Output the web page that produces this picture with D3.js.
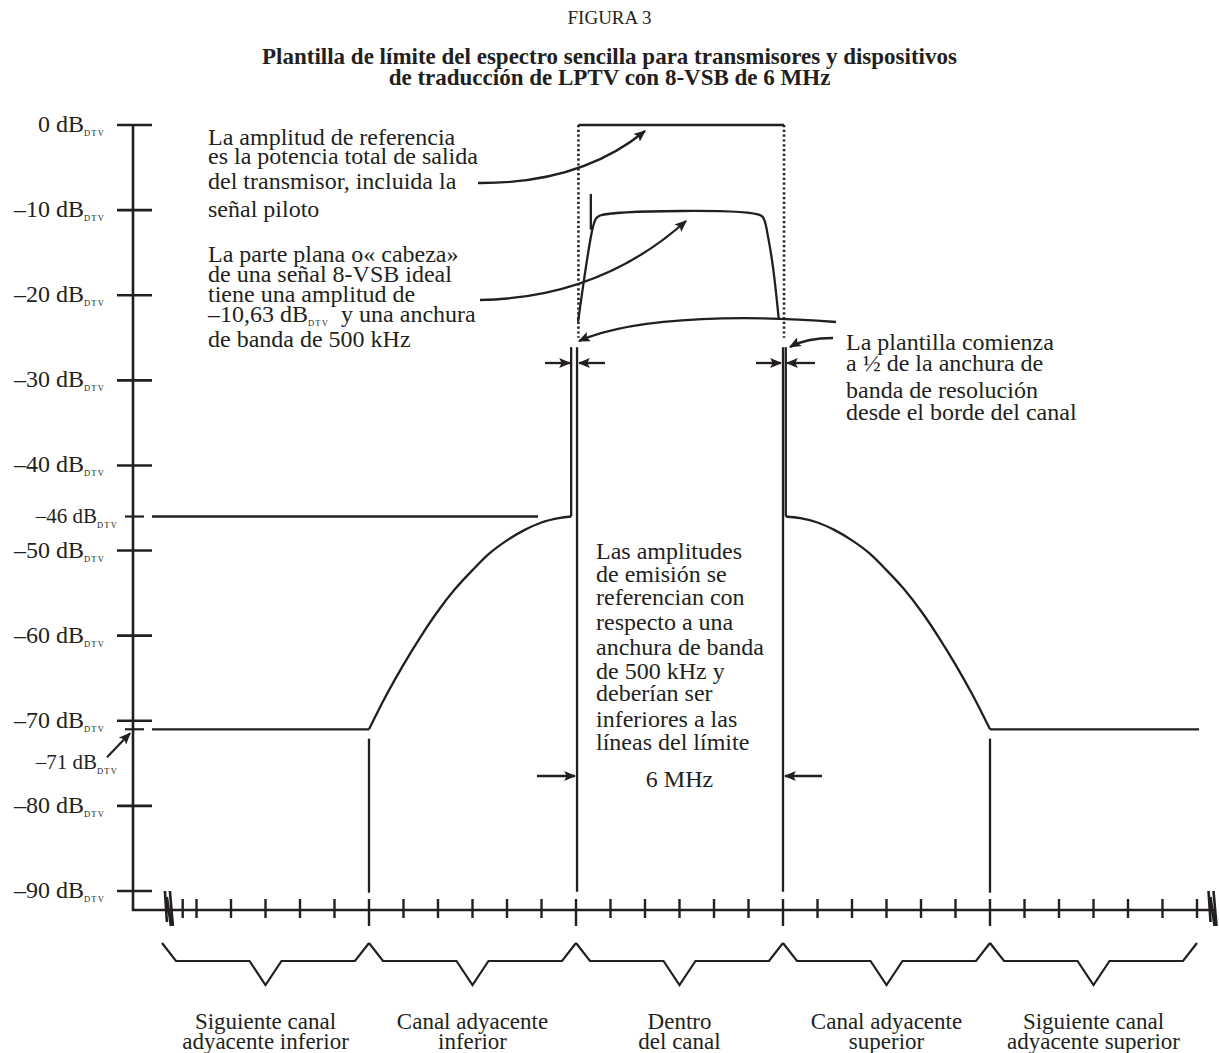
<!DOCTYPE html>
<html><head><meta charset="utf-8">
<script src="https://cdn.jsdelivr.net/npm/d3@7"></script>
<style>body{margin:0;background:#fff} svg{display:block} text{font-family:"Liberation Serif","Times New Roman",serif;fill:#231f20}</style>
</head><body>
<svg id="c" width="1219" height="1053"></svg>
<script>
// ---------- data ----------
const titleTop = "FIGURA 3";
const titleLines = ["Plantilla de límite del espectro sencilla para transmisores y dispositivos",
                    "de traducción de LPTV con 8-VSB de 6 MHz"];
const yTickValues = [0, -10, -20, -30, -40, -50, -60, -70, -80, -90];
const yTickLabels = ["0 dB", "–10 dB", "–20 dB", "–30 dB", "–40 dB", "–50 dB", "–60 dB", "–70 dB", "–80 dB", "–90 dB"];
const ySpecialValues = [-46, -71];
const ySpecialLabels = ["–46 dB", "–71 dB"];
const ySub = "DTV";
const xTickValues = [-11.4, -11, -10, -9, -8, -7, -6, -5, -4, -3, -2, -1, 0, 1, 2, 3, 4, 5, 6, 7, 8, 9, 10, 11, 12, 13, 14, 15, 16, 17, 18];
const xLongTicks = [-6, 0, 6, 12];
const xBreaks = [-11.8, 18.45];
const regionBounds = [-12, -6, 0, 6, 12, 18];
const regionLabels = [["Siguiente canal", "adyacente inferior"], ["Canal adyacente", "inferior"], ["Dentro", "del canal"], ["Canal adyacente", "superior"], ["Siguiente canal", "adyacente superior"]];
// limit mask (MHz, dBDTV)
const flatLowMHz = [-12.29, -6], flatHighMHz = [12, 18.06], flatDb = -71;
const guide46MHz = [-12.29, -1.1], guide46Db = -46;
const lowerCurveMHz = [-6, -5.5, -5, -4.5, -4, -3.5, -3, -2.5, -2, -1.5, -1, -0.5, -0.14];
const lowerCurveDb  = [-71, -67.0, -63.4, -60.1, -57.1, -54.5, -52.3, -50.3, -48.8, -47.6, -46.7, -46.2, -46];
const upperCurveMHz = [6.08, 6.5, 7, 7.5, 8, 8.5, 9, 9.5, 10, 10.5, 11, 11.5, 12];
const upperCurveDb  = [-46, -46.2, -46.7, -47.6, -48.8, -50.3, -52.3, -54.5, -57.1, -60.1, -63.4, -67.0, -71];
const edgeLineMHz    = [-0.14, 0.03, 6, 6.08, -6, 12];
const edgeLineTopDb  = [-26.1, -26.1, -26.1, -26.1, -72.1, -72.1];
const edgeLineBotDb  = [-46, -90.1, -90.1, -46, -90.2, -90.2];
const refLevelDb = 0;
const dottedMHz = [0.07, 6.03], dottedBottomDb = -25;
// ideal 8-VSB signal
const signalMHz = [0.06, 0.49, 0.58, 0.7, 5.36, 5.46, 5.57, 5.71, 5.88];
const signalDb  = [-23.1, -12.0, -11.0, -10.63, -10.63, -11.2, -13.2, -16.7, -22.9];
const pilotMHz = 0.43, pilotDb = [-8.1, -12.3];
// annotations
const note1 = ["La amplitud de referencia", "es la potencia total de salida", "del transmisor, incluida la", "señal piloto"];
const note2 = ["La parte plana o« cabeza»", "de una señal 8-VSB ideal", "tiene una amplitud de", "–10,63 dB|DTV|  y una anchura", "de banda de 500 kHz"];
const note3 = ["La plantilla comienza", "a ½ de la anchura de", "banda de resolución", "desde el borde del canal"];
const noteMid = ["Las amplitudes", "de emisión se", "referencian con", "respecto a una", "anchura de banda", "de 500 kHz y", "deberían ser", "inferiores a las", "líneas del límite"];
const bwLabel = "6 MHz";

// ---------- drawing ----------
const ink = "#231f20";
const svg = d3.select("#c");
svg.append("rect").attr("width", 1219).attr("height", 1053).attr("fill", "#fff");
const x = d3.scaleLinear().domain([0, 6]).range([576, 783]);
const y = d3.scaleLinear().domain([0, -90]).range([125, 891]);
const axisX = 133, axisY = 910, axisRight = 1215;

const defs = svg.append("defs");
defs.append("marker").attr("id", "ah").attr("viewBox", "0 0 10 10").attr("refX", 9).attr("refY", 5)
  .attr("markerWidth", 12).attr("markerHeight", 10).attr("markerUnits", "userSpaceOnUse")
  .attr("preserveAspectRatio", "none").attr("orient", "auto")
  .append("path").attr("d", "M0,0 L10,5 L0,10 L2,5 z").attr("fill", ink);

// titles
svg.append("text").attr("x", 609.5).attr("y", 24).attr("text-anchor", "middle").attr("font-size", 19).text(titleTop);
svg.selectAll(".tl").data(titleLines).enter().append("text")
  .attr("x", 609.5).attr("y", (d, i) => 64 + i * 21).attr("text-anchor", "middle")
  .attr("font-size", 23).attr("font-weight", "bold").text(d => d);

// y axis
svg.append("line").attr("x1", axisX).attr("x2", axisX).attr("y1", y(0) - 1).attr("y2", axisY + 1)
  .attr("stroke", ink).attr("stroke-width", 2.6);
svg.selectAll(".yt").data(yTickValues).enter().append("line")
  .attr("x1", 117).attr("x2", 152).attr("y1", d => y(d)).attr("y2", d => y(d))
  .attr("stroke", ink).attr("stroke-width", 2.6);
svg.selectAll(".ys").data(ySpecialValues).enter().append("line")
  .attr("x1", 125).attr("x2", 144).attr("y1", d => y(d)).attr("y2", d => y(d))
  .attr("stroke", ink).attr("stroke-width", 2.2);
yTickValues.forEach((v, i) => {
  svg.append("text").attr("x", 84).attr("y", y(v) + 7).attr("text-anchor", "end").attr("font-size", 24).text(yTickLabels[i]);
  svg.append("text").attr("x", 84).attr("y", y(v) + 11).attr("font-size", 8.5).attr("letter-spacing", 1.2).text(ySub);
});
ySpecialValues.forEach((v, i) => {
  const by = i === 0 ? y(v) + 6 : y(v) + 40;
  svg.append("text").attr("x", 97).attr("y", by).attr("text-anchor", "end").attr("font-size", 21).text(ySpecialLabels[i]);
  svg.append("text").attr("x", 97).attr("y", by + 5).attr("font-size", 8.5).attr("letter-spacing", 1.2).text(ySub);
});
// arrow to -71
svg.append("line").attr("x1", 107).attr("y1", y(-71) + 28).attr("x2", 130).attr("y2", y(-71) + 4)
  .attr("stroke", ink).attr("stroke-width", 2.2).attr("marker-end", "url(#ah)");

// x axis
svg.append("line").attr("x1", axisX - 1).attr("x2", axisRight).attr("y1", axisY).attr("y2", axisY)
  .attr("stroke", ink).attr("stroke-width", 2.6);
svg.selectAll(".xt").data(xTickValues).enter().append("line")
  .attr("x1", d => x(d)).attr("x2", d => x(d)).attr("y1", 899)
  .attr("y2", d => xLongTicks.includes(d) ? 926 : 918)
  .attr("stroke", ink).attr("stroke-width", 2.4);
xBreaks.forEach(b => {
  const cx = x(b);
  svg.append("path").attr("d", `M${cx - 4},891 L${cx - 2},922 M${cx + 1},891 L${cx + 4},926 M${cx - 2},897 L${cx + 2},926`)
    .attr("stroke", ink).attr("stroke-width", 2.6).attr("fill", "none");
});

// reference level line and dotted channel edges
svg.append("line").attr("x1", x(dottedMHz[0])).attr("x2", x(dottedMHz[1])).attr("y1", y(refLevelDb)).attr("y2", y(refLevelDb))
  .attr("stroke", ink).attr("stroke-width", 2.4);
svg.selectAll(".dot").data(dottedMHz).enter().append("line")
  .attr("x1", d => x(d)).attr("x2", d => x(d)).attr("y1", y(refLevelDb)).attr("y2", y(dottedBottomDb))
  .attr("stroke", ink).attr("stroke-width", 2.6).attr("stroke-dasharray", "2.2,2.6");

// limit mask
const lin = d3.line().x(d => x(d[0])).y(d => y(d[1]));
const smooth = d3.line().x(d => x(d[0])).y(d => y(d[1])).curve(d3.curveCatmullRom.alpha(0.5));
const maskStyle = s => s.attr("fill", "none").attr("stroke", ink).attr("stroke-width", 2.3);
svg.append("path").attr("d", lin(flatLowMHz.map(m => [m, flatDb]))).call(maskStyle);
svg.append("path").attr("d", lin(flatHighMHz.map(m => [m, flatDb]))).call(maskStyle);
svg.append("path").attr("d", lin(guide46MHz.map(m => [m, guide46Db]))).call(maskStyle);
svg.append("path").attr("d", smooth(lowerCurveMHz.map((m, i) => [m, lowerCurveDb[i]]))).call(maskStyle);
svg.append("path").attr("d", smooth(upperCurveMHz.map((m, i) => [m, upperCurveDb[i]]))).call(maskStyle);
edgeLineMHz.forEach((m, i) => {
  svg.append("line").attr("x1", x(m)).attr("x2", x(m)).attr("y1", y(edgeLineTopDb[i])).attr("y2", y(edgeLineBotDb[i]))
    .attr("stroke", ink).attr("stroke-width", 2.3);
});

// signal
svg.append("path").attr("d", smooth(signalMHz.map((m, i) => [m, signalDb[i]]))).call(maskStyle);
svg.append("line").attr("x1", x(pilotMHz)).attr("x2", x(pilotMHz)).attr("y1", y(pilotDb[0])).attr("y2", y(pilotDb[1]))
  .attr("stroke", ink).attr("stroke-width", 2.3);

// braces
regionBounds.slice(0, -1).forEach((b, i) => {
  const x0 = x(b), x1 = x(regionBounds[i + 1]), mid = (x0 + x1) / 2;
  svg.append("path").attr("d", `M${x0},943 L${x0 + 14},961 L${mid - 16},961 L${mid},985 L${mid + 16},961 L${x1 - 14},961 L${x1},943`)
    .attr("fill", "none").attr("stroke", ink).attr("stroke-width", 2.2);
  regionLabels[i].forEach((t, j) => {
    svg.append("text").attr("x", mid).attr("y", 1029 + j * 20).attr("text-anchor", "middle").attr("font-size", 23).text(t);
  });
});

// annotations text
const addLines = (lines, x0, ys, anchor) => lines.forEach((t, i) => {
  const el = svg.append("text").attr("x", x0).attr("y", ys[i]).attr("font-size", 24).attr("text-anchor", anchor || "start");
  if (t.includes("|")) {
    const p = t.split("|");
    el.append("tspan").text(p[0]);
    el.append("tspan").attr("font-size", 8.5).attr("letter-spacing", 1.2).attr("dy", 4).text(p[1]);
    el.append("tspan").attr("dy", -4).attr("xml:space", "preserve").style("white-space", "pre").text(p[2]);
  } else el.text(t);
});
addLines(note1, 208, [145, 164, 189, 217]);
addLines(note2, 208, [262, 282, 302, 322, 347]);
addLines(note3, 846, [350, 371, 398, 420]);
addLines(noteMid, 596, [559, 582, 605, 630, 655, 679, 701, 727, 750]);
svg.append("text").attr("x", x(3)).attr("y", 787).attr("text-anchor", "middle").attr("font-size", 24).text(bwLabel);

// annotation arrows
const arrow = d => svg.append("path").attr("d", d).attr("fill", "none").attr("stroke", ink)
  .attr("stroke-width", 2.3).attr("marker-end", "url(#ah)");
arrow("M478,183 Q580,184 645,131");
arrow("M480,300 Q600,298 686,221");
arrow("M836,322 C760,316 640,314 579,341");
arrow("M833,338 Q806,338 790,347");
arrow("M537,776 L575,776");
arrow("M822,776 L785,776");
arrow("M545,363 L570,363");
arrow("M605,363 L579,363");
arrow("M756,363 L781,363");
arrow("M815,363 L787,363");
</script>
</body></html>
